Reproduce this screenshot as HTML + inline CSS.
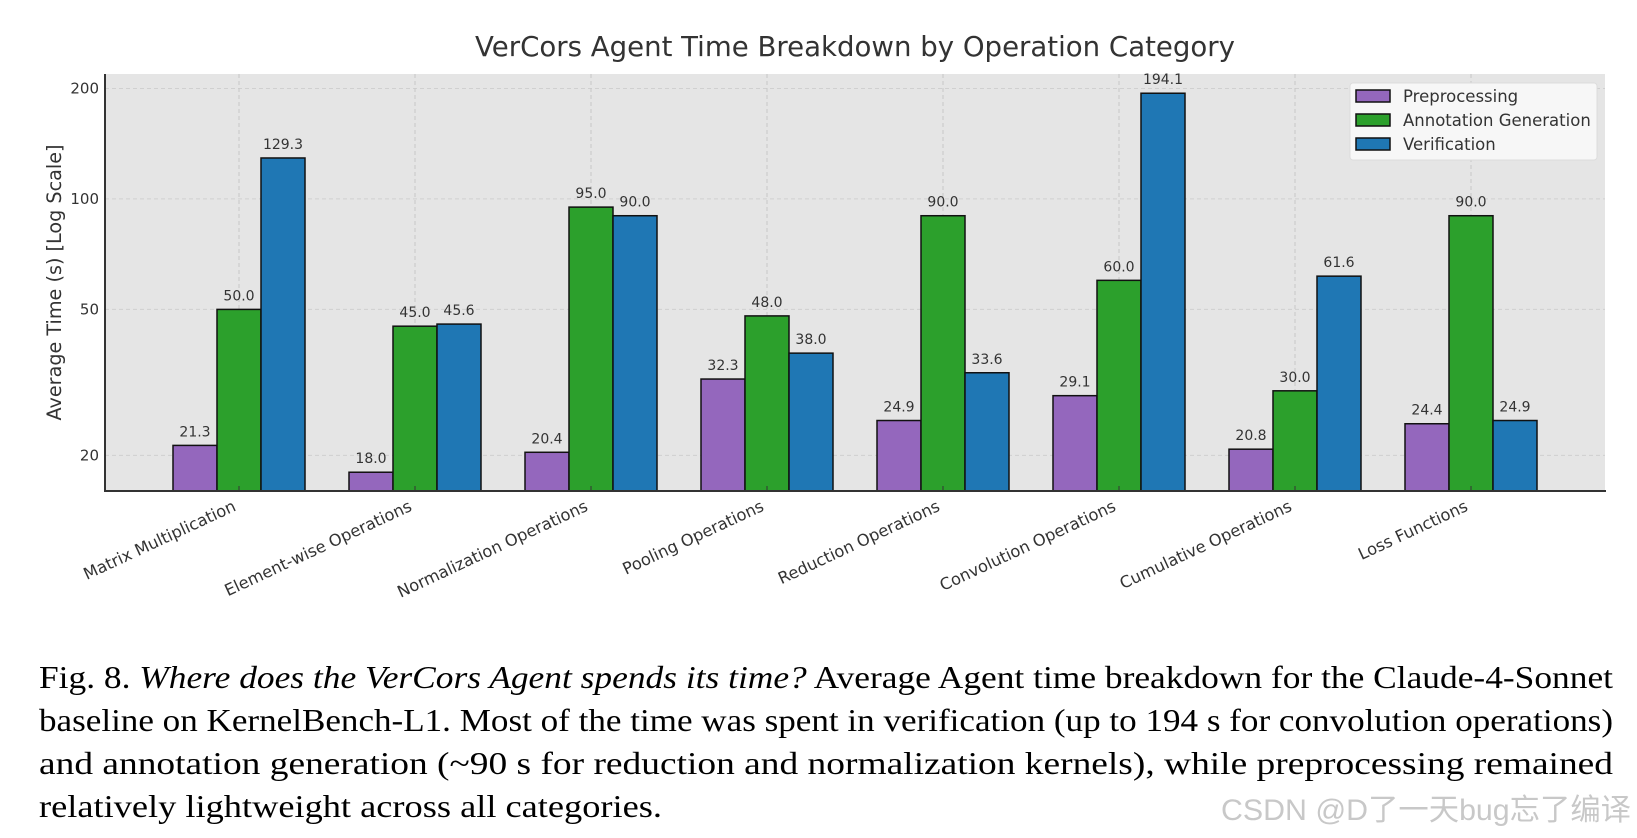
<!DOCTYPE html>
<html><head><meta charset="utf-8"><style>
html,body{margin:0;padding:0;background:#fff;width:1637px;height:838px;overflow:hidden}
svg{display:block}
</style></head><body>
<svg id="c" width="1637" height="838" xmlns="http://www.w3.org/2000/svg"></svg>
<script>
const categories=["Matrix Multiplication","Element-wise Operations","Normalization Operations","Pooling Operations","Reduction Operations","Convolution Operations","Cumulative Operations","Loss Functions"];
const preprocessing=[21.3,18.0,20.4,32.3,24.9,29.1,20.8,24.4];
const annotation=[50.0,45.0,95.0,48.0,90.0,60.0,30.0,90.0];
const verification=[129.3,45.6,90.0,38.0,33.6,194.1,61.6,24.9];
const yTicks=[20,50,100,200];
const seriesNames=["Preprocessing","Annotation Generation","Verification"];

const NS="http://www.w3.org/2000/svg";
const svg=document.getElementById('c');
function el(t,a,p){const e=document.createElementNS(NS,t);for(const k in a)e.setAttribute(k,a[k]);(p||svg).appendChild(e);return e;}
const L=105,R=1605,T=74,B=491;
const yMin=16.0,yMax=219;
function y(v){return B-(Math.log10(v)-Math.log10(yMin))/(Math.log10(yMax)-Math.log10(yMin))*(B-T);}
const step=176,x0=239;
function x(i){return x0+i*step;}
const bw=44;
const colors=["#9467bd","#2ca02c","#1f77b4"];
const series=[preprocessing,annotation,verification];

let bg=el('rect',{x:L,y:T,width:R-L,height:B-T,fill:'#e5e5e5'});


yTicks.forEach(v=>{
  let g=el('line',{x1:L,x2:R,y1:y(v),y2:y(v),stroke:'#d0d0d0','stroke-dasharray':'4,3','stroke-width':1});
  
  
  let t=el('text',{x:L-6,y:y(v)+5,'text-anchor':'end','font-family':'DejaVu Sans, sans-serif','font-size':15,fill:'#333'});
  t.textContent=v;
  
  
});
categories.forEach((c,i)=>{
  let g=el('line',{x1:x(i),x2:x(i),y1:T,y2:B,stroke:'#c8c8c8','stroke-dasharray':'4,3','stroke-width':1});
  
  
});
series.forEach((s,si)=>{
  s.forEach((v,i)=>{
    const bx=x(i)+(si-1)*bw-bw/2;
    let r=el('rect',{x:bx,y:y(v),width:bw,height:B-y(v),fill:colors[si],stroke:'#111','stroke-width':1.5});
    
    
    let t=el('text',{x:bx+bw/2,y:y(v)-9,'text-anchor':'middle','font-family':'DejaVu Sans, sans-serif','font-size':14,fill:'#333'});
    t.textContent=v.toFixed(1);
    
    
  });
});
categories.forEach((c,i)=>{
  let tk=el('line',{x1:x(i),x2:x(i),y1:B,y2:B-5,stroke:'#333','stroke-width':1});
  
  
  let t=el('text',{transform:`translate(${x(i)-2},${B+19}) rotate(-25)`,'text-anchor':'end','font-family':'DejaVu Sans, sans-serif','font-size':16.3,fill:'#333'});
  t.textContent=c;
  
  
});
let sp1=el('line',{x1:L,x2:L,y1:T,y2:B+1,stroke:'#333','stroke-width':2});


let sp2=el('line',{x1:L,x2:R+1,y1:B,y2:B,stroke:'#333','stroke-width':2});



let yl=el('text',{transform:`translate(61,${(T+B)/2}) rotate(-90)`,'text-anchor':'middle','font-family':'DejaVu Sans, sans-serif','font-size':19.2,fill:'#333'});
yl.textContent='Average Time (s) [Log Scale]';


let ti=el('text',{x:855,y:56,'text-anchor':'middle','font-family':'DejaVu Sans, sans-serif','font-size':27.6,fill:'#333'});
ti.textContent='VerCors Agent Time Breakdown by Operation Category';



let lg=el('rect',{x:1350,y:83,width:247,height:77,rx:3,fill:'#f7f7f7',stroke:'#dcdcdc'});


seriesNames.forEach((n,i)=>{
  const ly=96+i*24;
  let p=el('rect',{x:1356,y:ly-6,width:34,height:12,fill:colors[i],stroke:'#111','stroke-width':1.5});
  
  
  let t=el('text',{x:1403,y:ly+6,'font-family':'DejaVu Sans, sans-serif','font-size':16.5,fill:'#333'});
  t.textContent=n;
  
  
});

const cap=[
 ['<tspan>Fig. 8.  </tspan><tspan font-style="italic">Where does the VerCors Agent spends its time?</tspan><tspan> Average Agent time breakdown for the Claude-4-Sonnet</tspan>',688,1574],
 ['baseline on KernelBench-L1. Most of the time was spent in verification (up to 194 s for convolution operations)',731,1574],
 ['and annotation generation (~90 s for reduction and normalization kernels), while preprocessing remained',774,1574],
 ['relatively lightweight across all categories.',817,623]
];
cap.forEach((c,i)=>{
  let t=el('text',{x:39,y:c[1],'font-family':'Liberation Serif, serif','font-size':32,fill:'#000',textLength:c[2],lengthAdjust:'spacingAndGlyphs'});
  t.innerHTML=c[0];
  
  
});
let wm=el('text',{x:1221,y:820,'font-family':'Liberation Sans, Noto Sans CJK SC, sans-serif','font-size':30,fill:'#c8c8c8',textLength:410,lengthAdjust:'spacingAndGlyphs'});
wm.textContent='CSDN @D了一天bug忘了编译';


</script>
</body></html>
